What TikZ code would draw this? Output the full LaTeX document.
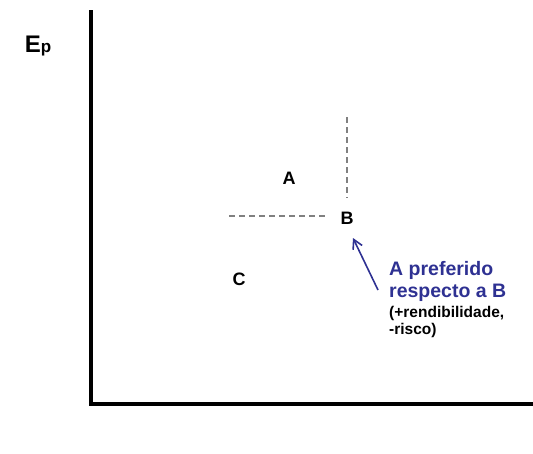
\documentclass[tikz,border=0pt]{standalone}
\usepackage{fontspec}
\setsansfont{Liberation Sans}
\usepackage{tikz}
\usetikzlibrary{arrows.meta,positioning}

\definecolor{prefblue}{RGB}{46,49,146}
\definecolor{dashgray}{RGB}{128,128,128}

\begin{document}
\begin{tikzpicture}[>={Straight Barb[length=9pt,width=10pt]},font=\sffamily\bfseries,x=1pt,y=-1pt]
    \useasboundingbox (0,0) rectangle (533,453);
    \tikzset{
        axis/.style={line width=3.5pt,line join=miter},
        guide/.style={dashgray,line width=1.3pt,dash pattern=on 6pt off 4pt},
        point/.style={font=\sffamily\bfseries\fontsize{18}{18}\selectfont,inner sep=1pt},
        note/.style={align=left,inner sep=0pt,anchor=north west}
    }
    % axes
    \draw [axis] (91,10) -- (91,404) -- (533,404);
    \node (Ep) at (38,46) {{\fontsize{24}{24}\selectfont E}{\fontsize{17}{17}\selectfont p}};
    % portfolios
    \node [point] (A) at (289,178) {A};
    \node [point] (B) at (347,218) {B};
    \node [point] (C) at (239,279) {C};
    \coordinate (vtop) at (347,117);
    \coordinate (vbot) at (347,198);
    \coordinate (hleft) at (229,216);
    \coordinate (hright) at (328,216);
    \draw [guide] (vtop) -- (vbot);
    \draw [guide] (hleft) -- (hright);
    % comment
    \node [note,text=prefblue,font=\sffamily\bfseries\fontsize{19.5}{22.5}\selectfont] (pref) at (389,261) {A preferido\\respecto a B};
    \node [note,font=\sffamily\bfseries\fontsize{15.5}{17}\selectfont,below=4pt of pref.south west,anchor=north west] (risk) {(+rendibilidade,\\-risco)};
    \coordinate (tail) at (378,290);
    \coordinate (head) at (353,238);
    \draw [->,prefblue,line width=1.6pt] (tail) -- (head);
\end{tikzpicture}
\end{document}
